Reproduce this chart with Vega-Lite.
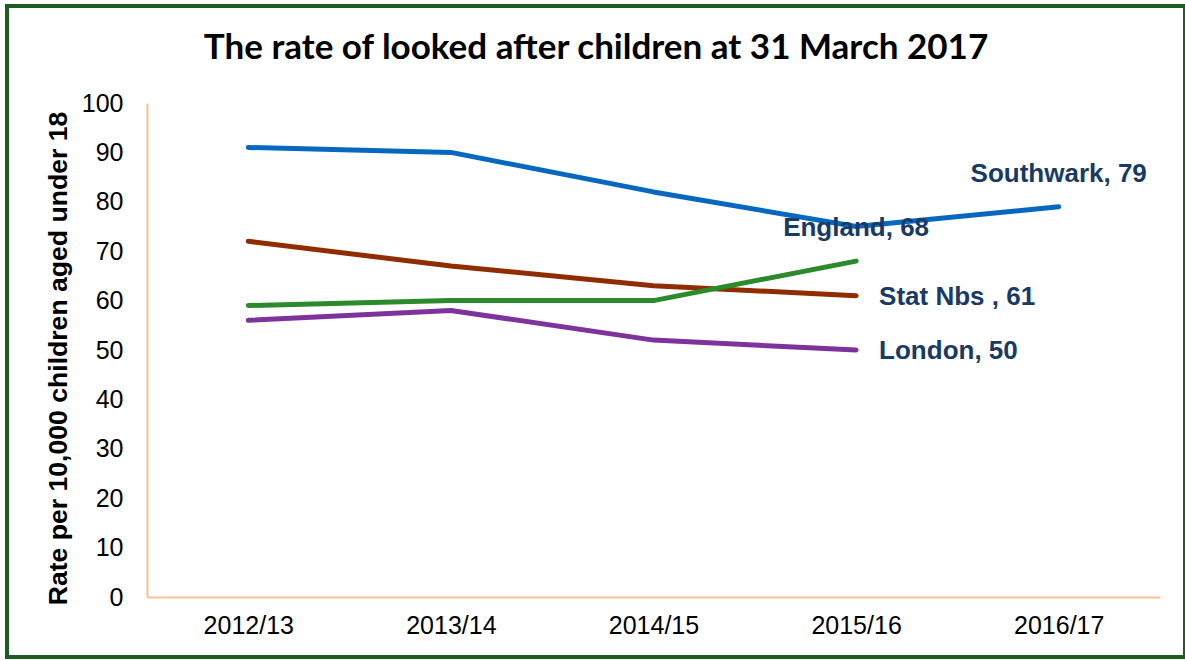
{
  "$schema": "https://vega.github.io/schema/vega-lite/v6.json",
  "autosize": {"type": "none"},
  "width": 1178,
  "height": 651,
  "padding": {"left": 7, "top": 6, "right": 0, "bottom": 3},
  "background": "white",
  "title": {
    "text": "The rate of looked after children at 31 March 2017",
    "font": "Lato",
    "fontSize": 35,
    "fontWeight": "bold",
    "color": "#000000",
    "anchor": "middle",
    "baseline": "alphabetic",
    "offset": -88
  },
  "config": {
    "view": {"stroke": "#1f5c1f", "strokeWidth": 4},
    "axis": {"labelFont": "Liberation Sans", "titleFont": "Liberation Sans"}
  },
  "datasets": {
    "series": [
      {"series": "Southwark", "year": "2012/13", "value": 91},
      {"series": "Southwark", "year": "2013/14", "value": 90},
      {"series": "Southwark", "year": "2014/15", "value": 82},
      {"series": "Southwark", "year": "2015/16", "value": 75},
      {"series": "Southwark", "year": "2016/17", "value": 79},
      {"series": "Stat Nbs", "year": "2012/13", "value": 72},
      {"series": "Stat Nbs", "year": "2013/14", "value": 67},
      {"series": "Stat Nbs", "year": "2014/15", "value": 63},
      {"series": "Stat Nbs", "year": "2015/16", "value": 61},
      {"series": "England", "year": "2012/13", "value": 59},
      {"series": "England", "year": "2013/14", "value": 60},
      {"series": "England", "year": "2014/15", "value": 60},
      {"series": "England", "year": "2015/16", "value": 68},
      {"series": "London", "year": "2012/13", "value": 56},
      {"series": "London", "year": "2013/14", "value": 58},
      {"series": "London", "year": "2014/15", "value": 52},
      {"series": "London", "year": "2015/16", "value": 50}
    ],
    "labels": [
      {"series": "Southwark", "year": "2016/17", "value": 79, "label": "Southwark, 79"},
      {"series": "England", "year": "2015/16", "value": 68, "label": "England, 68"},
      {"series": "Stat Nbs", "year": "2015/16", "value": 61, "label": "Stat Nbs , 61"},
      {"series": "London", "year": "2015/16", "value": 50, "label": "London, 50"}
    ]
  },
  "layer": [
    {
      "data": {"name": "series"},
      "mark": {"type": "line", "strokeWidth": 5, "strokeCap": "round", "strokeJoin": "round"},
      "encoding": {
        "x": {
          "field": "year",
          "type": "ordinal",
          "sort": ["2012/13", "2013/14", "2014/15", "2015/16", "2016/17"],
          "scale": {"type": "point", "domain": ["2012/13", "2013/14", "2014/15", "2015/16", "2016/17"], "range": [140, 1153], "padding": 0.5},
          "axis": {
            "title": null,
            "offset": -60,
            "labelAngle": 0,
            "labelFontSize": 25,
            "labelColor": "#000000",
            "labelPadding": 16,
            "ticks": false,
            "tickSize": 0,
            "domainColor": "#f6c48e",
            "domainWidth": 2,
            "grid": false
          }
        },
        "y": {
          "field": "value",
          "type": "quantitative",
          "scale": {"domain": [0, 100], "range": [591, 97], "nice": false, "zero": true},
          "axis": {
            "title": "Rate per 10,000 children aged under 18",
            "titleFontSize": 26.6,
            "titleFontWeight": "bold",
            "titleColor": "#000000",
            "titlePadding": 9,
            "titleY": 352,
            "offset": -140,
            "values": [0, 10, 20, 30, 40, 50, 60, 70, 80, 90, 100],
            "labelFontSize": 25,
            "labelColor": "#000000",
            "labelPadding": 24,
            "ticks": false,
            "tickSize": 0,
            "domainColor": "#f6c48e",
            "domainWidth": 2,
            "grid": false
          }
        },
        "color": {
          "field": "series",
          "type": "nominal",
          "scale": {"domain": ["Southwark", "Stat Nbs", "England", "London"], "range": ["#0868c0", "#8f2c00", "#2b8a2b", "#7d339b"]},
          "legend": null
        }
      }
    },
    {
      "data": {"name": "labels"},
      "transform": [{"filter": "datum.series === 'Southwark' || datum.series === 'England'"}],
      "mark": {"type": "text", "font": "Liberation Sans", "fontSize": 26, "fontWeight": "bold", "color": "#183a64", "align": "center", "baseline": "middle", "dy": -33},
      "encoding": {
        "x": {"field": "year", "type": "ordinal", "sort": ["2012/13", "2013/14", "2014/15", "2015/16", "2016/17"]},
        "y": {"field": "value", "type": "quantitative"},
        "text": {"field": "label"}
      }
    },
    {
      "data": {"name": "labels"},
      "transform": [{"filter": "datum.series === 'Stat Nbs' || datum.series === 'London'"}],
      "mark": {"type": "text", "font": "Liberation Sans", "fontSize": 26, "fontWeight": "bold", "color": "#183a64", "align": "left", "baseline": "middle", "dx": 23, "dy": 1},
      "encoding": {
        "x": {"field": "year", "type": "ordinal", "sort": ["2012/13", "2013/14", "2014/15", "2015/16", "2016/17"]},
        "y": {"field": "value", "type": "quantitative"},
        "text": {"field": "label"}
      }
    }
  ]
}
